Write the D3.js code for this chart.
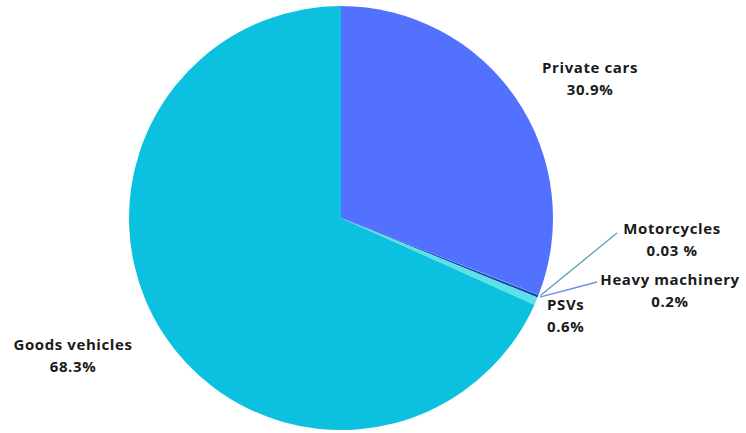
<!DOCTYPE html>
<html>
<head>
<meta charset="utf-8">
<script src="https://cdn.jsdelivr.net/npm/d3@7"></script>
<style>
  body { margin: 0; background: #fff; }
  text { font-family: "Open Sans", sans-serif; font-weight: 700; font-size: 15px; letter-spacing: 0.6px; fill: #1a1a1a; }
</style>
</head>
<body>
<div id="piechart"></div>
<script>
"use strict";

// data (shares in %)
const categories = ["Private cars", "Motorcycles", "Heavy machinery", "PSVs", "Goods vehicles"];
const shares = [30.9, 0.03, 0.2, 0.6, 68.3];
const shareLabels = ["30.9%", "0.03 %", "0.2%", "0.6%", "68.3%"];
const colors = ["#5271ff", "#38b6ff", "#1f45b5", "#5ce1e6", "#0cc0df"];

const width = 746, height = 433;
const cx = 341, cy = 218, radius = 212;

const svg = d3.select("#piechart")
  .append("svg")
  .attr("width", width)
  .attr("height", height)
  .append("g")
  .attr("transform", "translate(" + cx + "," + cy + ")");

const pie = d3.pie().sort(null).value(d => d.value);
const arc = d3.arc().innerRadius(0).outerRadius(radius);

const data = pie(categories.map((c, i) => ({ name: c, value: shares[i], label: shareLabels[i], color: colors[i] })));

svg.selectAll("path.slice")
  .data(data)
  .enter()
  .append("path")
  .attr("class", "slice")
  .attr("fill", d => d.data.color)
  .attr("d", arc);

// label placement (relative to pie centre)
const labelPos = {
  "Private cars":    { x: 249, y: -145, anchor: "middle" },
  "Motorcycles":     { x: 331, y: 16, anchor: "middle" },
  "Heavy machinery": { x: 329, y: 67, anchor: "middle" },
  "PSVs":            { x: 206, y: 92, anchor: "start" },
  "Goods vehicles":  { x: -268, y: 132, anchor: "middle" }
};

// leader lines for the two tiny slices
const leaders = {
  "Motorcycles":     { end: [276, 15], color: "#5a9fb8" },
  "Heavy machinery": { end: [256, 64], color: "#6a8fe0" }
};

data.forEach(d => {
  const p = labelPos[d.data.name];
  const t = svg.append("text")
    .attr("text-anchor", p.anchor)
    .attr("x", p.x)
    .attr("y", p.y);
  t.append("tspan").attr("x", p.x).text(d.data.name);
  t.append("tspan").attr("x", p.x).attr("dy", 22).text(d.data.label);

  const l = leaders[d.data.name];
  if (l) {
    const a = (d.startAngle + d.endAngle) / 2;
    const r0 = radius + 2;
    svg.append("line")
      .attr("x1", Math.sin(a) * r0)
      .attr("y1", -Math.cos(a) * r0)
      .attr("x2", l.end[0])
      .attr("y2", l.end[1])
      .attr("stroke", l.color)
      .attr("stroke-width", 1.3);
  }
});
</script>
</body>
</html>
